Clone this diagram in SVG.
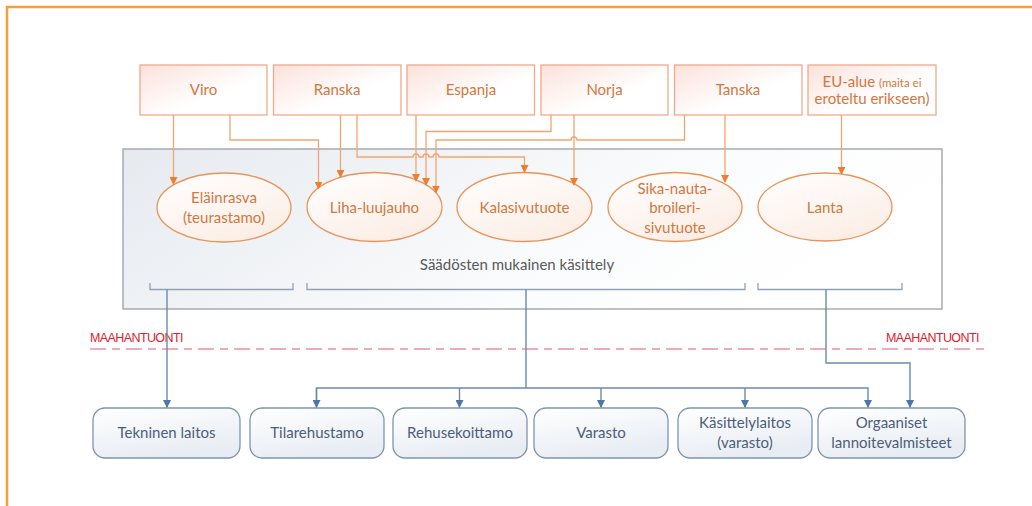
<svg xmlns="http://www.w3.org/2000/svg" width="1032" height="506" viewBox="0 0 1032 506">
<defs>
<linearGradient id="gTop" x1="0" y1="0" x2="1" y2="1">
<stop offset="0" stop-color="#FCE1DB"/><stop offset="0.6" stop-color="#FFFFFF"/><stop offset="1" stop-color="#FFFFFF"/>
</linearGradient>
<linearGradient id="gBig" x1="0" y1="0" x2="1" y2="0.3">
<stop offset="0" stop-color="#E6EAEF"/><stop offset="0.7" stop-color="#FBFCFD"/><stop offset="1" stop-color="#FFFFFF"/>
</linearGradient>
<linearGradient id="gEll" x1="0" y1="0" x2="0.6" y2="1">
<stop offset="0" stop-color="#FFFFFF"/><stop offset="1" stop-color="#FCEEE6"/>
</linearGradient>
<linearGradient id="gBot" x1="0" y1="0" x2="0.4" y2="1">
<stop offset="0" stop-color="#FFFFFF"/><stop offset="1" stop-color="#E8EDF3"/>
</linearGradient>
<marker id="ao" markerWidth="8" markerHeight="8" refX="7" refY="4" orient="auto" markerUnits="userSpaceOnUse">
<path d="M0,0 L8,4 L0,8 Z" fill="#ED7D31"/>
</marker>
<marker id="ab" markerWidth="8" markerHeight="8" refX="7" refY="4" orient="auto" markerUnits="userSpaceOnUse">
<path d="M0,0 L8,4 L0,8 Z" fill="#4A76A8"/>
</marker>
</defs>
<style>
.frame{stroke:#F7A036;stroke-width:2.5;fill:none}
.top rect{fill:url(#gTop);stroke:#F1A98A;stroke-width:1.3}
.ell ellipse{fill:url(#gEll);stroke:#E8935A;stroke-width:1.3}
.bot rect{fill:url(#gBot);stroke:#7F95AC;stroke-width:1.3}
.to{font-family:Lato,"Open Sans",sans-serif;font-size:15px;fill:#D0783F;text-anchor:middle}
.tb{font-family:Lato,"Open Sans",sans-serif;font-size:15px;fill:#4B5F7A;text-anchor:middle}
.tg{font-family:Lato,"Open Sans",sans-serif;font-size:15px;fill:#595959;text-anchor:middle}
.tr{font-family:"Liberation Sans",Arial,sans-serif;font-size:12.5px;fill:#E0202E;letter-spacing:-0.6px}
.co{stroke:#F2A56E;stroke-width:1.3;fill:none}
.cb{stroke:#6A8AAE;stroke-width:1.4;fill:none}
.br{stroke:#90A2B6;stroke-width:1.3;fill:none}
</style>
<rect width="1032" height="506" fill="#FFFFFF"/>
<path class="frame" d="M7,506 L7,7 L1032,7"/>

<rect id="kasittely" x="123" y="149" width="819" height="160" fill="url(#gBig)" stroke="#A8ABAE" stroke-width="1.5"/>
<text class="tg" x="517" y="270">Säädösten mukainen käsittely</text>

<g id="viro" class="top"><rect x="140" y="65" width="127" height="50"/><text class="to" x="203.5" y="95">Viro</text></g>
<g id="ranska" class="top"><rect x="273.5" y="65" width="127.5" height="50"/><text class="to" x="337" y="95">Ranska</text></g>
<g id="espanja" class="top"><rect x="407" y="65" width="127.5" height="50"/><text class="to" x="471" y="95">Espanja</text></g>
<g id="norja" class="top"><rect x="541" y="65" width="127" height="50"/><text class="to" x="604.5" y="95">Norja</text></g>
<g id="tanska" class="top"><rect x="674.5" y="65" width="127.5" height="50"/><text class="to" x="738" y="95">Tanska</text></g>
<g id="eu" class="top"><rect x="808" y="65" width="128" height="50"/><text class="to" x="872" y="87">EU-alue <tspan font-size="11.5">(maita ei</tspan></text><text class="to" x="872" y="104" font-size="11.5">eroteltu erikseen)</text></g>

<g id="elainrasva" class="ell"><ellipse cx="224" cy="207.5" rx="67" ry="34.5"/><text class="to" x="224" y="203">Eläinrasva</text><text class="to" x="224" y="223">(teurastamo)</text></g>
<g id="liha" class="ell"><ellipse cx="374.5" cy="207" rx="67.5" ry="34.5"/><text class="to" x="374.5" y="213">Liha-luujauho</text></g>
<g id="kala" class="ell"><ellipse cx="524.5" cy="207" rx="67.5" ry="34.5"/><text class="to" x="524.5" y="213">Kalasivutuote</text></g>
<g id="sika" class="ell"><ellipse cx="675" cy="207" rx="67" ry="34.5"/><text class="to" x="675" y="194">Sika-nauta-</text><text class="to" x="675" y="213">broileri-</text><text class="to" x="675" y="233">sivutuote</text></g>
<g id="lanta" class="ell"><ellipse cx="825" cy="207" rx="67" ry="34"/><text class="to" x="825" y="213">Lanta</text></g>

<g id="brackets">
<path class="br" d="M150,283 V289.5 H293 V283"/>
<path class="br" d="M307,283 V289.5 H745 V283"/>
<path class="br" d="M758,283 V289.5 H902 V283"/>
</g>

<g id="rajaviiva">
<line x1="90" y1="349" x2="986" y2="349" stroke="#E691A2" stroke-width="1.3" stroke-dasharray="16 6 8 6"/>
<text class="tr" x="90" y="342">MAAHANTUONTI</text>
<text class="tr" x="886" y="342">MAAHANTUONTI</text>
</g>

<g id="tekninen" class="bot"><rect x="93" y="408" width="147" height="50" rx="12"/><text class="tb" x="166.5" y="438">Tekninen laitos</text></g>
<g id="tilarehustamo" class="bot"><rect x="250" y="408" width="134" height="50" rx="12"/><text class="tb" x="317" y="438">Tilarehustamo</text></g>
<g id="rehusekoittamo" class="bot"><rect x="393" y="408" width="134" height="50" rx="12"/><text class="tb" x="460" y="438">Rehusekoittamo</text></g>
<g id="varasto" class="bot"><rect x="534" y="408" width="134" height="50" rx="12"/><text class="tb" x="601" y="438">Varasto</text></g>
<g id="kasittelylaitos" class="bot"><rect x="678" y="408" width="134" height="50" rx="12"/><text class="tb" x="745" y="428">Käsittelylaitos</text><text class="tb" x="745" y="448">(varasto)</text></g>
<g id="orgaaniset" class="bot"><rect x="818" y="408" width="147" height="50" rx="12"/><text class="tb" x="891.5" y="428">Orgaaniset</text><text class="tb" x="891.5" y="448">lannoitevalmisteet</text></g>

<g id="connectors">
<path class="co" d="M173.5,115 V184" marker-end="url(#ao)"/>
<path class="co" d="M230,115 V140 H318.5 V188.5" marker-end="url(#ao)"/>
<path class="co" d="M340.5,115 V177" marker-end="url(#ao)"/>
<path class="co" d="M357,115 V157 H413 a3,3 0 0 1 6,0 H423 a3,3 0 0 1 6,0 H433 a3,3 0 0 1 6,0 H524.5 V172" marker-end="url(#ao)"/>
<path class="co" d="M416,115 V181" marker-end="url(#ao)"/>
<path class="co" d="M551,115 V131.5 H426 V185" marker-end="url(#ao)"/>
<path class="co" d="M684.5,115 V140 H577 a3,3 0 0 0 -6,0 H436 V192.5" marker-end="url(#ao)"/>
<path class="co" d="M574,115 V185" marker-end="url(#ao)"/>
<path class="co" d="M725,115 V182" marker-end="url(#ao)"/>
<path class="co" d="M841.5,115 V174" marker-end="url(#ao)"/>

<path class="cb" d="M167,289.5 V407" marker-end="url(#ab)"/>
<path class="cb" d="M526,289.5 V388"/>
<path class="cb" d="M316.5,407 V388 H868 V407" marker-end="url(#ab)"/>
<path class="cb" d="M459.5,388 V407" marker-end="url(#ab)"/>
<path class="cb" d="M601,388 V407" marker-end="url(#ab)"/>
<path class="cb" d="M745,388 V407" marker-end="url(#ab)"/>
<path class="cb" d="M316.5,388 V407" marker-end="url(#ab)"/>
<path class="cb" d="M826,289.5 V363 H910 V407" marker-end="url(#ab)"/>
</g>
</svg>
